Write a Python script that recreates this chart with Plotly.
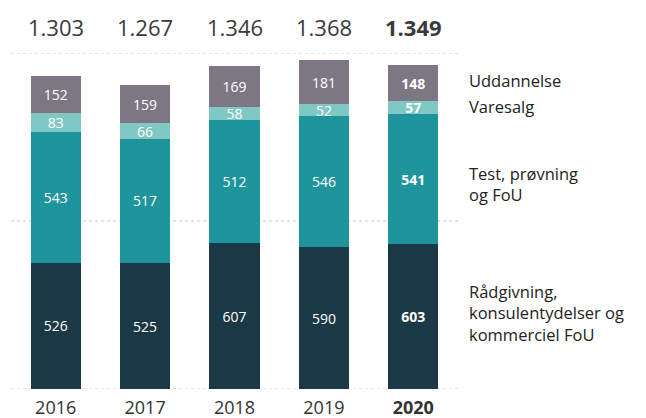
import plotly.graph_objects as go

years = ["2016", "2017", "2018", "2019", "2020"]
year_labels = ["2016", "2017", "2018", "2019", "<b>2020</b>"]
raadgivning = [526, 525, 607, 590, 603]
test_fou = [543, 517, 512, 546, 541]
varesalg = [83, 66, 58, 52, 57]
uddannelse = [152, 159, 169, 181, 148]
totals = ["1.303", "1.267", "1.346", "1.368", "<b>1.349</b>"]
grid_values = [0, 700, 1400]

series = [
    ("Rådgivning,<br>konsulentydelser og<br>kommerciel FoU", raadgivning, "#1B3846"),
    ("Test, prøvning<br>og FoU", test_fou, "#1E959C"),
    ("Varesalg", varesalg, "#80C8C4"),
    ("Uddannelse", uddannelse, "#7D7784"),
]
label_shift = [4, -5, 1, 3]

FONT = "Open Sans"
fig = go.Figure()

for g in grid_values:
    fig.add_shape(type="line", xref="paper", x0=0, x1=1, yref="y", y0=g, y1=g,
                  line=dict(color="#c8c8c8", width=1, dash="dot"), layer="below")

for name, vals, color in series:
    texts = [str(v) if i < 4 else f"<b>{v}</b>" for i, v in enumerate(vals)]
    fig.add_trace(go.Bar(
        x=years, y=vals, name=name, marker=dict(color=color, line=dict(width=0)),
        text=texts, textposition="inside", insidetextanchor="middle",
        textfont=dict(color="white", size=14, family=FONT),
        textangle=0, hoverinfo="skip",
    ))

# totals above
for i, t in enumerate(totals):
    fig.add_annotation(x=i, xref="x", y=1400, yref="y", text=t, showarrow=False,
                       yshift=26, font=dict(size=22, color="#3a3a3a", family=FONT))

# right-side labels, positioned at the middle of the 2020 segments
cum = 0
for (name, vals, color), sh in zip(series, label_shift):
    v = vals[-1]
    fig.add_annotation(x=1.0, xref="paper", y=cum + v / 2, yref="y", text=name,
                       showarrow=False, xanchor="left", align="left", xshift=9, yshift=sh,
                       font=dict(size=16.5, color="#222222", family=FONT))
    cum += v

fig.update_layout(
    barmode="stack", bargap=0.44,
    width=646, height=418,
    margin=dict(l=11, r=188, t=53, b=29, autoexpand=False),
    paper_bgcolor="white", plot_bgcolor="white",
    showlegend=False,
    uniformtext=dict(minsize=14, mode="show"),
    font=dict(family=FONT, color="#333333"),
    xaxis=dict(type="category", categoryorder="array", categoryarray=years,
               range=[-0.5, 4.5], autorange=False, automargin=False,
               tickmode="array", tickvals=years, ticktext=year_labels,
               tickangle=0, ticklabelstandoff=6,
               tickfont=dict(size=18, color="#333333", family=FONT), showgrid=False,
               showline=False, zeroline=False, ticks=""),
    yaxis=dict(range=[0, 1400], autorange=False, automargin=False, showticklabels=False,
               showgrid=False, zeroline=False, showline=False),
)
fig.write_html("out.html", config={"displayModeBar": False},
               post_script="document.body.style.margin='0';")
